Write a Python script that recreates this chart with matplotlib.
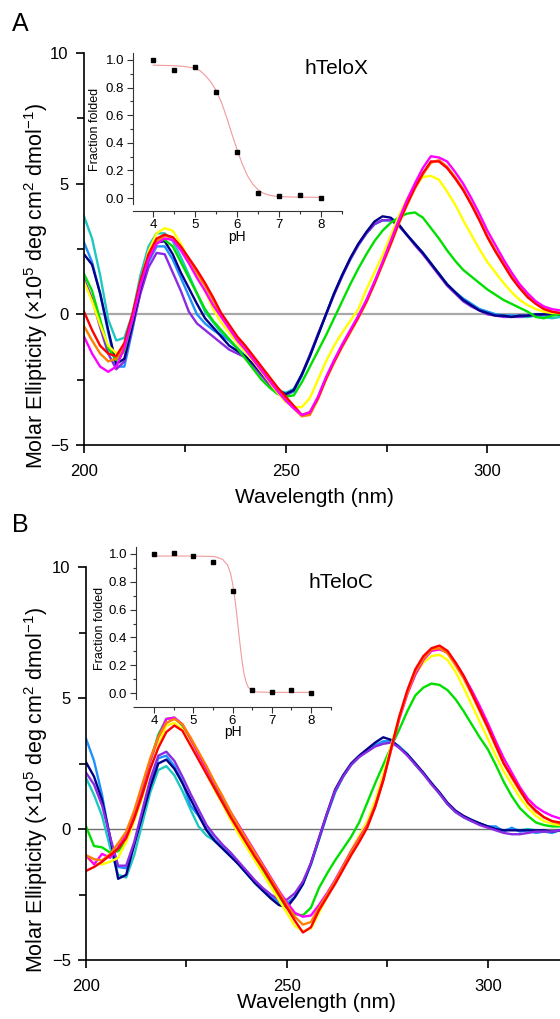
import matplotlib
matplotlib.use("Agg")
import matplotlib.pyplot as plt
from matplotlib.ticker import MultipleLocator

plt.rcParams['font.family'] = ['Liberation Sans', 'DejaVu Sans']
plt.rcParams['mathtext.fontset'] = 'custom'
plt.rcParams['mathtext.rm'] = 'Liberation Sans'
plt.rcParams['mathtext.it'] = 'Liberation Sans:italic'

# ---------------- data ----------------
wavelength = list(range(200, 320, 2))

# Panel A (hTeloX)
a_red = [0.1, -0.6, -1.2, -1.5, -1.6, -1.1, 0.0, 1.3, 2.3, 2.9,
         3.05, 2.95, 2.6, 2.15, 1.7, 1.2, 0.65, 0.05, -0.4, -0.85,
         -1.2, -1.6, -2.0, -2.4, -2.8, -3.15, -3.5, -3.85, -3.75, -3.2,
         -2.45, -1.8, -1.2, -0.65, -0.1, 0.5, 1.2, 1.95, 2.7, 3.5,
         4.2, 4.85, 5.4, 5.85, 5.85, 5.6, 5.2, 4.75, 4.2, 3.6,
         2.95, 2.4, 1.9, 1.4, 1.0, 0.65, 0.4, 0.2, 0.1, 0.05]
a_orange = [-0.45, -1.0, -1.5, -1.8, -1.7, -1.2, -0.1, 1.2, 2.2, 2.8,
            3.0, 2.95, 2.55, 2.05, 1.6, 1.1, 0.55, -0.05, -0.45, -0.9,
            -1.25, -1.65, -2.05, -2.45, -2.85, -3.25, -3.6, -3.9, -3.85, -3.25,
            -2.5, -1.85, -1.25, -0.7, -0.15, 0.45, 1.15, 1.9, 2.65, 3.45,
            4.15, 4.8, 5.35, 5.8, 5.9, 5.65, 5.25, 4.8, 4.25, 3.65,
            3.0, 2.45, 1.95, 1.45, 1.05, 0.7, 0.45, 0.25, 0.1, 0.05]
a_yellow = [1.25, 0.5, -0.4, -1.2, -1.5, -1.2, -0.1, 1.2, 2.4, 3.1,
            3.3, 3.2, 2.7, 2.1, 1.5, 0.9, 0.2, -0.3, -0.7, -1.1,
            -1.45, -1.8, -2.2, -2.6, -3.0, -3.35, -3.55, -3.55, -3.2, -2.5,
            -1.8, -1.2, -0.7, -0.25, 0.2, 0.95, 1.6, 2.25, 3.0, 3.75,
            4.4, 4.9, 5.25, 5.3, 5.15, 4.7, 4.2, 3.6, 3.05, 2.5,
            2.0, 1.6, 1.2, 0.85, 0.55, 0.35, 0.2, 0.1, 0.05, 0.05]
a_green = [1.55, 0.9, -0.2, -1.3, -1.75, -1.4, -0.2, 1.2, 2.3, 2.8,
           2.85, 2.6, 2.0, 1.4, 0.8, 0.2, -0.25, -0.6, -0.95, -1.3,
           -1.7, -2.1, -2.5, -2.8, -3.05, -3.15, -3.1, -2.6, -2.0, -1.4,
           -0.8, -0.15, 0.5, 1.15, 1.75, 2.3, 2.8, 3.2, 3.5, 3.7,
           3.85, 3.9, 3.7, 3.3, 2.9, 2.45, 2.05, 1.7, 1.45, 1.2,
           0.95, 0.75, 0.55, 0.4, 0.25, 0.1, -0.1, -0.15, -0.05, 0.0]
a_cyan = [3.75, 2.9, 1.5, -0.2, -1.0, -0.9, 0.0, 1.5, 2.6, 3.1,
          3.1, 2.8, 2.2, 1.5, 0.8, 0.1, -0.3, -0.7, -1.0, -1.3,
          -1.6, -1.95, -2.3, -2.6, -2.9, -3.0, -2.85, -2.3, -1.55, -0.8,
          0.0, 0.8, 1.5, 2.1, 2.65, 3.1, 3.45, 3.6, 3.6, 3.4,
          3.05, 2.7, 2.35, 1.95, 1.55, 1.15, 0.85, 0.6, 0.4, 0.2,
          0.1, 0.0, -0.05, -0.05, -0.1, -0.1, -0.05, -0.1, -0.15, -0.1]
a_azure = [2.75, 2.0, 0.8, -0.7, -2.0, -2.0, -0.6, 0.9, 2.0, 2.6,
           2.6, 2.1, 1.4, 0.7, 0.0, -0.35, -0.6, -0.8, -1.0, -1.3,
           -1.6, -1.95, -2.3, -2.65, -2.95, -3.1, -2.95, -2.35, -1.6, -0.8,
           0.0, 0.8, 1.5, 2.1, 2.65, 3.1, 3.45, 3.6, 3.6, 3.4,
           3.05, 2.7, 2.35, 1.95, 1.55, 1.15, 0.85, 0.6, 0.4, 0.2,
           0.1, 0.0, -0.05, -0.05, -0.05, -0.05, 0.0, 0.0, 0.0, 0.0]
a_navy = [2.3, 1.9, 0.8, -0.6, -1.9, -1.7, -0.4, 1.0, 2.1, 2.75,
          2.8, 2.3, 1.6, 1.0, 0.4, -0.15, -0.5, -0.85, -1.2, -1.4,
          -1.6, -1.9, -2.25, -2.6, -2.9, -3.05, -2.9, -2.3, -1.6, -0.8,
          0.0, 0.8, 1.5, 2.15, 2.7, 3.15, 3.55, 3.75, 3.7, 3.45,
          3.05, 2.7, 2.35, 1.95, 1.55, 1.15, 0.85, 0.55, 0.35, 0.15,
          0.05, -0.05, -0.05, -0.1, -0.05, -0.05, 0.0, 0.0, 0.0, 0.0]
a_purple = [1.35, 0.6, -0.5, -1.5, -2.1, -1.8, -0.5, 0.8, 1.8, 2.35,
            2.3, 1.6, 0.9, 0.1, -0.35, -0.6, -0.85, -1.1, -1.35, -1.5,
            -1.65, -2.0, -2.35, -2.7, -2.95, -3.1, -2.9, -2.3, -1.55, -0.75,
            0.0, 0.75, 1.45, 2.1, 2.65, 3.1, 3.45, 3.6, 3.6, 3.4,
            3.05, 2.65, 2.3, 1.9, 1.5, 1.1, 0.8, 0.5, 0.3, 0.15,
            0.0, -0.05, -0.1, -0.1, -0.1, -0.05, -0.05, 0.0, 0.0, 0.0]
a_magenta = [-0.85, -1.5, -2.0, -2.2, -2.0, -1.3, -0.2, 1.1, 2.1, 2.7,
             2.9, 2.85, 2.45, 1.95, 1.4, 0.9, 0.35, -0.1, -0.55, -1.0,
             -1.35, -1.75, -2.15, -2.55, -2.95, -3.3, -3.6, -3.85, -3.75, -3.15,
             -2.4, -1.75, -1.15, -0.6, -0.05, 0.55, 1.25, 2.0, 2.8, 3.6,
             4.35, 5.0, 5.6, 6.05, 6.0, 5.85, 5.45, 5.0, 4.45, 3.85,
             3.2, 2.65, 2.1, 1.6, 1.15, 0.8, 0.5, 0.3, 0.2, 0.15]

# Panel B (hTeloC)
b_red = [-1.6, -1.45, -1.25, -1.0, -0.75, -0.35, 0.4, 1.3, 2.3, 3.1,
         3.7, 3.95, 3.75, 3.2, 2.65, 2.1, 1.55, 1.0, 0.45, -0.05,
         -0.55, -1.05, -1.5, -2.0, -2.5, -3.0, -3.5, -3.95, -3.75, -3.1,
         -2.6, -2.1, -1.55, -1.0, -0.5, 0.05, 0.85, 1.85, 3.1, 4.3,
         5.3, 6.1, 6.6, 6.9, 7.0, 6.8, 6.35, 5.85, 5.2, 4.55,
         3.9, 3.2, 2.5, 2.0, 1.5, 1.0, 0.7, 0.45, 0.3, 0.25]
b_orange = [-1.0, -1.15, -1.2, -0.95, -0.55, -0.1, 0.7, 1.7, 2.7, 3.5,
            4.05, 4.2, 4.0, 3.5, 2.95, 2.4, 1.8, 1.25, 0.65, 0.1,
            -0.4, -0.9, -1.4, -1.9, -2.4, -2.9, -3.35, -3.65, -3.55, -3.0,
            -2.5, -2.0, -1.45, -0.9, -0.4, 0.1, 0.85, 1.85, 3.05, 4.25,
            5.2, 6.0, 6.5, 6.85, 6.9, 6.7, 6.25, 5.75, 5.15, 4.5,
            3.85, 3.15, 2.5, 1.95, 1.45, 1.0, 0.65, 0.45, 0.3, 0.2]
b_yellow = [-1.1, -1.3, -1.35, -1.25, -1.1, -0.5, 0.3, 1.2, 2.3, 3.2,
            3.95, 4.05, 3.8, 3.3, 2.7, 2.1, 1.5, 0.95, 0.35, -0.2,
            -0.7, -1.2, -1.7, -2.2, -2.7, -3.2, -3.7, -3.9, -3.8, -3.2,
            -2.6, -2.0, -1.4, -0.8, -0.25, 0.3, 1.1, 2.1, 3.2, 4.3,
            5.2, 5.9, 6.35, 6.6, 6.65, 6.45, 6.0, 5.4, 4.75, 4.1,
            3.45, 2.8, 2.2, 1.7, 1.2, 0.8, 0.5, 0.3, 0.2, 0.15]
b_green = [0.1, -0.65, -0.7, -0.9, -0.85, -0.45, 0.45, 1.5, 2.6, 3.6,
           4.2, 4.25, 3.95, 3.4, 2.8, 2.2, 1.6, 1.05, 0.5, -0.05,
           -0.6, -1.1, -1.6, -2.1, -2.6, -3.0, -3.25, -3.3, -3.0, -2.25,
           -1.7, -1.2, -0.75, -0.3, 0.25, 1.0, 1.75, 2.45, 3.15, 3.8,
           4.5, 5.1, 5.4, 5.55, 5.5, 5.3, 4.95, 4.5, 4.0, 3.5,
           3.05, 2.45, 1.8, 1.25, 0.8, 0.5, 0.25, 0.15, 0.1, 0.1]
b_cyan = [1.95, 1.3, 0.5, -0.7, -1.75, -1.85, -1.0, 0.2, 1.4, 2.25,
          2.4, 2.05, 1.45, 0.75, 0.1, -0.25, -0.45, -0.7, -1.0, -1.35,
          -1.7, -2.05, -2.35, -2.6, -2.8, -2.85, -2.6, -2.1, -1.35, -0.4,
          0.55, 1.4, 2.0, 2.45, 2.75, 3.0, 3.2, 3.3, 3.35, 3.15,
          2.85, 2.45, 2.1, 1.75, 1.35, 0.95, 0.65, 0.45, 0.3, 0.2,
          0.1, 0.0, -0.05, 0.0, -0.05, 0.0, -0.05, -0.1, -0.1, -0.05]
b_azure = [3.45, 2.6, 1.3, -0.4, -1.45, -1.5, -0.6, 0.6, 1.8, 2.7,
           2.8, 2.4, 1.8, 0.9, 0.5, 0.0, -0.4, -0.7, -1.0, -1.35,
           -1.7, -2.05, -2.35, -2.6, -2.8, -2.85, -2.6, -2.1, -1.35, -0.4,
           0.55, 1.4, 2.0, 2.45, 2.75, 3.0, 3.2, 3.35, 3.35, 3.15,
           2.85, 2.5, 2.1, 1.75, 1.35, 0.95, 0.65, 0.45, 0.3, 0.2,
           0.1, 0.1, -0.1, 0.05, -0.1, -0.05, -0.15, -0.1, -0.15, -0.05]
b_navy = [2.55, 2.0, 1.1, -0.3, -1.9, -1.75, -0.6, 0.5, 1.6, 2.5,
          2.65, 2.3, 1.75, 1.15, 0.55, -0.05, -0.45, -0.75, -1.05, -1.35,
          -1.7, -2.05, -2.35, -2.65, -2.9, -3.0, -2.6, -2.1, -1.3, -0.35,
          0.6, 1.5, 2.05, 2.5, 2.8, 3.05, 3.3, 3.5, 3.4, 3.1,
          2.85, 2.5, 2.15, 1.75, 1.4, 1.0, 0.7, 0.5, 0.35, 0.22,
          0.1, 0.0, -0.05, -0.05, -0.05, -0.05, -0.05, -0.05, -0.1, -0.05]
b_purple = [2.15, 1.7, 0.9, -0.3, -1.4, -1.4, -0.5, 0.7, 1.9, 2.8,
            2.95, 2.6, 2.0, 1.35, 0.75, 0.15, -0.25, -0.6, -0.9, -1.25,
            -1.6, -1.95, -2.25, -2.5, -2.7, -2.7, -2.45, -2.0, -1.3, -0.35,
            0.6, 1.45, 2.0, 2.45, 2.75, 2.95, 3.15, 3.25, 3.3, 3.1,
            2.8, 2.45, 2.1, 1.7, 1.35, 0.95, 0.65, 0.45, 0.3, 0.15,
            0.05, -0.05, -0.15, -0.2, -0.2, -0.15, -0.1, -0.1, -0.1, -0.05]
b_magenta = [-1.0, -1.35, -0.95, -1.1, -0.7, -0.2, 0.6, 1.6, 2.6, 3.5,
             4.2, 4.25, 4.0, 3.45, 2.85, 2.3, 1.75, 1.2, 0.65, 0.15,
             -0.35, -0.85, -1.35, -1.85, -2.35, -2.8, -3.2, -3.35, -3.3, -2.9,
             -2.45, -1.95, -1.4, -0.85, -0.35, 0.15, 0.9, 1.9, 3.05, 4.2,
             5.15, 5.9, 6.45, 6.8, 6.85, 6.75, 6.35, 5.85, 5.3, 4.7,
             4.05, 3.35, 2.7, 2.15, 1.6, 1.15, 0.85, 0.65, 0.5, 0.4]

# insets: fraction folded vs pH
ph = [4.0, 4.5, 5.0, 5.5, 6.0, 6.5, 7.0, 7.5, 8.0]
frac_a = [1.0, 0.93, 0.95, 0.77, 0.335, 0.035, 0.017, 0.022, 0.0]
frac_b = [1.0, 1.01, 0.983, 0.945, 0.735, 0.02, 0.005, 0.02, 0.0]
fit_ph_a = [4.0, 4.5, 4.75, 5.0, 5.125, 5.25, 5.375, 5.5, 5.625, 5.75, 5.875,
            6.0, 6.125, 6.25, 6.375, 6.5, 6.625, 6.75, 6.875, 7.0, 7.5, 8.0]
fit_a = [0.962, 0.958, 0.952, 0.94, 0.92, 0.885, 0.84, 0.78, 0.695, 0.585, 0.465,
         0.35, 0.245, 0.16, 0.1, 0.06, 0.035, 0.022, 0.014, 0.01, 0.006, 0.005]
fit_ph_b = [4.0, 5.0, 5.5, 5.625, 5.75, 5.875, 5.95, 6.0, 6.05, 6.1, 6.15, 6.2,
            6.25, 6.3, 6.35, 6.4, 6.5, 6.6, 7.0, 8.0]
fit_b = [0.985, 0.985, 0.982, 0.975, 0.96, 0.92, 0.86, 0.79, 0.70, 0.585, 0.455, 0.33,
         0.215, 0.13, 0.075, 0.042, 0.015, 0.008, 0.005, 0.005]

colors = {'cyan': '#1ec8c0', 'azure': '#1e90ff', 'navy': '#000088',
          'purple': '#8a2be2', 'green': '#00e000', 'yellow': '#ffff00',
          'orange': '#ff8000', 'red': '#ff0000', 'magenta': '#ff00ff'}

series_a = [('cyan', a_cyan), ('azure', a_azure), ('purple', a_purple), ('navy', a_navy),
            ('green', a_green), ('yellow', a_yellow), ('orange', a_orange),
            ('red', a_red), ('magenta', a_magenta)]
series_b = [('cyan', b_cyan), ('azure', b_azure), ('navy', b_navy), ('purple', b_purple),
            ('green', b_green), ('yellow', b_yellow), ('magenta', b_magenta),
            ('orange', b_orange), ('red', b_red)]

W, H = 560, 1019
fig = plt.figure(figsize=(W / 100, H / 100), dpi=100)


def fx(px):
    return px / W


def fy(py):
    return 1 - py / H


def main_axes(left, top, bottom, series, zcolor, zlw):
    ax = fig.add_axes([fx(left), fy(bottom), fx(W - left), (bottom - top) / H])
    ax.axhline(0, color=zcolor, lw=zlw, zorder=1)
    for name, vals in series:
        ax.plot(wavelength, vals, color=colors[name], lw=1.7, zorder=2,
                solid_joinstyle='round')
    ax.set_xlim(200, 318)
    ax.set_ylim(-5, 10)
    for s in ['top', 'right']:
        ax.spines[s].set_visible(False)
    for s in ['left', 'bottom']:
        ax.spines[s].set_linewidth(1.2)
    ax.xaxis.set_major_locator(MultipleLocator(50))
    ax.xaxis.set_minor_locator(MultipleLocator(25))
    ax.yaxis.set_major_locator(MultipleLocator(5))
    ax.yaxis.set_minor_locator(MultipleLocator(2.5))
    ax.tick_params(which='major', direction='out', length=6, width=1.2, labelsize=12)
    ax.tick_params(which='minor', direction='out', length=5, width=1.2)
    ax.tick_params(axis='x', pad=8)
    ax.tick_params(axis='y', pad=5)
    ax.patch.set_alpha(0)
    return ax


def inset_axes(left, right, top, bottom, xlim, ylim, ph_vals, frac, fitx, fity):
    ax = fig.add_axes([fx(left), fy(bottom), (right - left) / W, (bottom - top) / H])
    ax.plot(fitx, fity, color='#f29a9a', lw=0.8, zorder=2)
    ax.plot(ph_vals, frac, 's', color='black', ms=3.2, zorder=3)
    ax.set_xlim(*xlim)
    ax.set_ylim(*ylim)
    for s in ['top', 'right']:
        ax.spines[s].set_visible(False)
    for s in ['left', 'bottom']:
        ax.spines[s].set_linewidth(0.8)
        ax.spines[s].set_color('#333333')
    ax.spines['left'].set_bounds(-0.045, ylim[1])
    ax.xaxis.set_major_locator(MultipleLocator(1))
    ax.xaxis.set_minor_locator(MultipleLocator(0.5))
    ax.yaxis.set_minor_locator(MultipleLocator(0.1))
    ax.set_yticks([0.0, 0.2, 0.4, 0.6, 0.8, 1.0])
    ax.set_yticklabels(['0.0', '0.2', '0.4', '0.6', '0.8', '1.0'])
    ax.tick_params(which='major', direction='out', length=4, width=0.8,
                   labelsize=9.5, color='#333333')
    ax.tick_params(which='minor', direction='out', length=2.5, width=0.8, color='#333333')
    ax.tick_params(axis='x', pad=1.5)
    ax.tick_params(axis='y', pad=2.5)
    ax.patch.set_alpha(0)
    return ax


# Panel A
main_axes(84, 53, 445, series_a, '#a8a8a8', 1.6)
inset_axes(133, 342, 53, 211, (3.52, 8.5), (-0.094, 1.05), ph, frac_a, fit_ph_a, fit_a)
# Panel B
main_axes(86, 567, 960, series_b, '#707070', 1.0)
inset_axes(136, 331, 547, 707, (3.54, 8.51), (-0.1, 1.05), ph, frac_b, fit_ph_b, fit_b)

ylabel = r'Molar Ellipticity ($\times$10$^{5}$ deg cm$^{2}$ dmol$^{-1}$)'
fig.text(fx(36), fy(286), ylabel, rotation=90, ha='center', va='center', fontsize=15.5)
fig.text(fx(36), fy(790), ylabel, rotation=90, ha='center', va='center', fontsize=15.5)
fig.text(fx(314), fy(497), 'Wavelength (nm)', ha='center', va='center', fontsize=15)
fig.text(fx(316), fy(1002), 'Wavelength (nm)', ha='center', va='center', fontsize=15)

fig.text(fx(95), fy(129), 'Fraction folded', rotation=90, ha='center', va='center', fontsize=9)
fig.text(fx(100), fy(628), 'Fraction folded', rotation=90, ha='center', va='center', fontsize=9)
fig.text(fx(237), fy(237), 'pH', ha='center', va='center', fontsize=10)
fig.text(fx(233), fy(732), 'pH', ha='center', va='center', fontsize=10)

fig.text(fx(305), fy(68), 'hTeloX', ha='left', va='center', fontsize=15)
fig.text(fx(308), fy(582), 'hTeloC', ha='left', va='center', fontsize=15)

fig.text(fx(12), fy(24), 'A', ha='left', va='center', fontsize=18)
fig.text(fx(12), fy(525), 'B', ha='left', va='center', fontsize=18)

fig.savefig('out.png', dpi=100)
